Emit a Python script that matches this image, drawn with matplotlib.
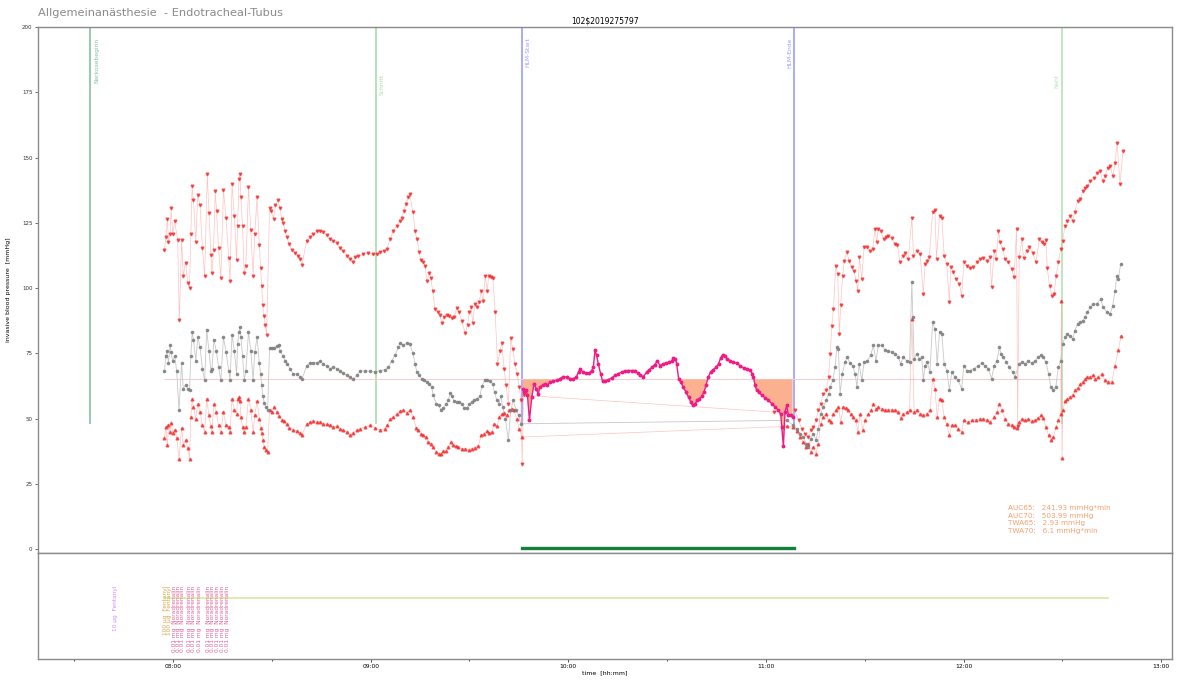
import numpy as np
import pandas as pd
import matplotlib
matplotlib.use("Agg")
import matplotlib.pyplot as plt
import matplotlib.dates as mdates

# ------------------------------------------------------------
# Data (time in minutes relative to 08:00, pressure in mmHg)
# ------------------------------------------------------------
sys_t = [-2.6, -2.2, -1.7, -1.4, -0.9, -0.6, -0.1, 0.5, 1.4, 1.9, 2.6, 3.1, 3.8, 4.5, 5.0,
         5.4, 5.8, 6.2, 6.9, 7.5, 8.2, 8.9, 9.6, 10.4, 10.9, 11.5, 11.8, 12.3, 12.8, 13.2,
         13.8, 14.5, 15.3, 16.1, 16.9, 17.3, 17.9, 18.6, 19.3, 19.6, 20.0, 20.3, 20.6, 21.1,
         21.6, 22.1, 22.9, 23.6, 24.3, 24.8, 25.5, 26.2, 26.6, 26.9, 27.2, 27.6, 28.0, 28.4,
         29.3, 29.8, 30.5, 31.1, 31.8, 32.5, 33.0, 33.5, 34.0, 34.5, 35.3, 36.0, 37.0, 37.9,
         38.6, 39.1, 40.6, 41.6, 42.6, 43.6, 44.6, 45.6, 46.7, 47.7, 48.7, 49.7, 50.7, 51.7,
         52.7, 53.7, 54.5, 55.3, 56.3, 57.8, 59.3, 60.8, 61.8, 62.8, 63.9, 64.9, 65.9, 66.9,
         67.9, 68.9, 69.4, 70.1, 70.7, 71.4, 71.9, 72.8, 73.5, 74.0, 74.7, 75.2, 76.0, 76.5,
         77.0, 77.8, 78.3, 78.8, 79.5, 80.3, 80.9, 81.6, 82.3, 83.1, 83.9, 84.6, 85.3, 86.1,
         86.9, 87.6, 88.7, 89.4, 90.0, 90.5, 91.0, 91.6, 92.2, 93.0, 93.5, 94.2, 94.8, 95.4,
         95.8, 96.4, 97.1, 97.8, 98.5, 99.3, 99.8, 100.5, 101.1, 101.8, 102.5, 103.1, 103.8,
         104.5, 105.1, 105.6, 106.0, 106.4,
         182.3, 188.8, 189.9, 190.9, 191.9, 192.9, 193.6, 194.4, 195.2, 195.9, 196.6, 197.4,
         198.3, 199.0, 199.5, 200.0, 200.5, 201.2, 201.8, 202.3, 202.7, 203.3, 203.8, 204.5,
         205.3, 206.0, 206.7, 207.4, 207.9, 208.4, 209.1, 209.8, 210.8, 211.6, 212.4, 213.1,
         213.6, 214.1, 214.8, 215.7, 216.5, 217.2, 218.2, 219.2, 219.9, 220.7, 221.5, 222.2,
         223.2, 224.3, 224.8, 225.8, 226.8, 227.8, 228.3, 228.8, 229.6, 230.6, 231.3, 231.8,
         232.7, 233.4, 234.1, 234.9, 235.7, 236.1, 236.9, 237.7, 238.7, 239.4, 240.1, 241.0,
         242.0, 243.0, 244.0, 245.0, 246.0, 247.2, 248.0, 248.5, 249.3, 249.9, 250.6, 251.1,
         251.9, 252.6, 253.6, 254.6, 255.3, 256.1, 256.4, 256.9, 257.7, 258.2, 259.2, 260.0,
         261.0, 262.0, 263.0, 263.7, 264.4, 265.0, 265.4, 266.1, 266.8, 267.5, 268.1, 268.8,
         269.5, 270.1, 270.8, 271.5, 272.3, 273.1, 273.8, 274.6, 275.4, 276.2, 276.9, 277.6,
         278.4, 279.5, 280.5, 281.4, 282.2, 283.0, 283.8, 284.5, 285.3, 286.0, 286.6, 287.5,
         288.4]
sys_v = [114.6, 119.6, 126.6, 117.8, 120.6, 130.6, 120.6, 125.5, 118.5, 87.8, 118.5, 104.7,
         109.6, 101.9, 99.9, 120.6, 138.9, 133.6, 117.8, 135.7, 131.7, 115.5, 104.7, 143.6,
         128.7, 112.6, 105.7, 114.6, 137.2, 129.6, 115.5, 103.7, 137.6, 127.0, 111.5, 102.8,
         139.7, 127.6, 110.8, 123.6, 141.7, 143.6, 134.9, 123.6, 105.7, 108.5, 138.7, 122.3,
         104.7, 120.6, 134.7, 116.4, 107.6, 100.6, 93.6, 89.2, 85.9, 82.0,
         130.6, 129.6, 126.6, 131.7, 133.6, 130.6, 126.4, 125.1, 121.9, 119.4, 116.8, 114.6,
         113.6, 112.4, 111.1, 108.9, 118.1, 119.6, 120.7, 121.7, 121.9, 121.6, 120.4, 118.8,
         118.1, 117.1, 115.3, 114.3, 112.4, 111.1, 109.8, 111.7, 112.4, 113.0, 113.4, 113.0,
         113.0, 113.7, 114.3, 114.9, 118.8, 121.9, 123.9, 125.8, 127.0, 129.5, 132.1, 134.7,
         136.0, 129.0, 121.9, 118.8, 113.7, 110.7, 109.8, 108.6, 102.8, 105.6, 103.8, 98.8,
         92.0, 90.7, 89.8, 86.5, 88.8, 89.8, 89.4, 88.6, 88.8, 92.4, 90.7, 87.3, 82.7, 86.0,
         90.7, 92.6, 86.5, 93.9, 92.6, 94.5, 99.0, 95.2, 104.6, 99.0, 104.6, 104.4, 103.8,
         90.7, 71.0, 76.0, 78.9, 69.0, 62.7, 55.7, 80.9, 76.7, 71.0, 67.2, 62.1, 57.0, 32.7,
         58.9,
         52.5, 53.1, 49.3, 46.1, 44.2, 42.9, 45.5, 46.8, 49.3, 53.1, 55.7, 59.5, 60.8, 65.9,
         74.8, 85.6, 92.0, 108.6, 105.3, 82.2, 93.6, 104.7, 110.5, 113.7, 110.5, 107.9, 106.4,
         102.8, 99.0, 111.7, 103.5, 115.6, 115.6, 114.3, 114.9, 122.6, 117.7, 122.6, 122.0,
         118.8, 119.4, 119.8, 119.1, 116.8, 116.6, 109.8, 112.4, 113.3, 111.1, 126.8, 112.4,
         114.3, 113.0, 97.7, 109.2, 110.5, 111.7, 129.0, 129.8, 111.1, 127.7, 126.8, 112.4,
         109.2, 94.5, 108.2, 106.0, 103.5, 101.6, 97.1, 109.8, 108.6, 107.7, 108.2, 109.8,
         111.1, 111.5, 110.5, 111.7, 100.5, 114.3, 111.1, 121.9, 117.5, 114.9, 111.1, 109.8,
         107.3, 104.1, 122.6, 47.0, 111.7, 118.8, 111.5, 114.3, 115.6, 113.3, 109.8, 118.8,
         117.5, 116.8, 118.4, 107.7, 100.9, 97.1, 97.7, 104.7, 109.8, 114.9, 118.1, 123.9,
         125.8, 127.7, 125.8, 129.0, 133.4, 134.0, 137.2, 138.5, 139.1, 141.0, 142.0, 144.0,
         145.0, 141.0, 143.0, 146.0, 146.7, 143.0, 148.0, 155.5, 140.0, 152.5]

map_t = [-2.6, -2.2, -1.9, -1.4, -0.9, -0.6, -0.1, 0.5, 1.1, 1.8, 2.6, 3.1, 3.8, 4.5, 5.0,
         5.4, 5.8, 6.2, 6.9, 7.5, 8.2, 8.9, 9.6, 10.2, 10.9, 11.5, 11.8, 12.4, 13.1, 13.8,
         14.5, 15.3, 16.1, 16.9, 17.3, 17.9, 18.6, 19.3, 19.6, 20.0, 20.3, 20.6, 21.1, 21.6,
         22.1, 22.9, 23.6, 24.3, 24.8, 25.5, 26.2, 26.6, 26.9, 27.3, 27.7, 28.2, 28.7,
         29.3, 30.0, 30.7, 31.5, 32.1, 32.5, 33.3, 34.0, 34.7, 35.5, 36.5, 37.7, 38.6, 39.1,
         40.6, 41.6, 42.6, 43.6, 44.6, 45.6, 46.7, 47.7, 48.7, 49.7, 50.7, 51.7, 52.7, 53.7,
         54.5, 55.8, 56.8, 58.3, 59.8, 61.3, 62.8, 64.4, 65.4, 66.4, 67.4, 68.4, 68.9, 69.9,
         70.9, 71.9, 72.8, 73.5, 74.0, 74.8, 75.5, 76.2, 77.0, 77.8, 78.5, 79.0, 79.9, 80.6,
         81.3, 82.1, 82.9, 83.6, 84.1, 84.6, 85.3, 86.1, 86.9, 87.6, 88.4, 89.2, 90.0, 90.7,
         91.4, 92.2, 93.2, 93.7, 94.7, 95.4, 96.2, 97.0, 97.6, 98.3, 98.9, 99.5, 100.1, 100.9,
         101.8, 102.5, 103.3, 104.1, 104.9, 105.6,
         186.3, 188.3, 189.3, 190.4, 191.4, 192.2, 192.9, 193.6, 194.4, 195.2, 195.9, 196.6,
         197.4, 198.3, 199.0, 199.5, 200.3, 201.0, 201.5, 202.0, 202.5, 203.2, 204.0, 204.7,
         205.5, 206.3, 207.1, 207.6, 208.3, 209.1, 209.8, 210.8, 211.8, 212.6, 213.4, 214.1,
         215.2, 216.2, 217.2, 218.2, 219.2, 220.2, 220.9, 221.7, 222.7, 223.6, 224.3, 224.6,
         225.0, 225.8, 226.6, 227.3, 227.8, 228.3, 229.0, 229.8, 230.6, 231.3, 232.0, 232.7,
         233.4, 234.1, 234.9, 235.7, 236.4, 237.4, 238.4, 239.4, 240.1, 241.0, 242.0, 243.2,
         244.5, 245.5, 246.5, 247.5, 248.5, 249.3, 250.1, 250.9, 251.4, 252.1, 252.9, 253.9,
         254.9, 255.6, 256.9, 257.6, 258.7, 259.7, 260.7, 261.7, 262.7, 263.4, 264.2, 265.0,
         265.8, 266.5, 267.3, 268.0, 268.8, 269.5, 270.1, 270.8, 271.5, 272.3, 273.1, 273.8,
         274.6, 275.4, 276.2, 276.9, 277.6, 278.4, 279.4, 280.4, 281.6, 282.4, 283.5, 284.5,
         285.3, 286.0, 286.5, 287.0, 287.7]
map_v = [68.2, 74.1, 76.0, 71.3, 78.2, 75.4, 72.0, 74.1, 68.2, 53.1, 71.2, 61.4, 62.9, 61.4,
         61.0, 74.1, 83.1, 80.1, 72.2, 81.1, 77.3, 69.0, 64.6, 84.1, 76.0, 68.4, 69.0, 80.1,
         76.0, 69.9, 64.6, 81.1, 75.4, 68.4, 64.8, 82.0, 76.0, 67.1, 78.6, 83.1, 85.2, 81.1,
         74.1, 64.8, 68.2, 83.1, 76.0, 64.6, 75.4, 81.1, 71.2, 67.1, 62.7, 58.5, 55.9, 54.4,
         53.1,
         77.1, 77.1, 77.1, 77.6, 78.3, 76.0, 74.1, 72.2, 71.0, 69.0, 67.1, 67.1, 65.9, 65.0,
         70.3, 71.4, 71.4, 71.4, 71.9, 71.0, 70.0, 69.1, 69.7, 69.1, 68.4, 67.4, 66.5, 65.9,
         65.0, 66.5, 68.2, 68.2, 68.2, 67.8, 68.4, 68.7, 69.7, 72.2, 74.2, 77.3, 78.9, 78.0,
         78.9, 78.6, 75.0, 71.0, 67.8, 66.5, 65.2, 64.6, 64.0, 63.3, 62.1, 58.9, 55.7, 55.0,
         53.4, 54.2, 55.7, 57.0, 59.8, 58.5, 56.7, 56.3, 56.3, 55.7, 54.2, 54.0, 55.7, 56.3,
         57.0, 57.6, 58.5, 62.3, 64.9, 64.9, 64.3, 63.3, 60.1, 57.0, 55.7, 58.5, 54.4, 49.9,
         41.7, 53.1, 57.0, 53.4, 51.2, 48.0,
         49.3, 47.4, 46.1, 44.2, 42.9, 40.4, 39.1, 42.3, 44.2, 41.7, 46.1, 51.9, 54.4, 57.0,
         59.5, 62.1, 64.6, 69.7, 77.3, 76.7, 59.5, 67.2, 71.6, 73.5, 71.2, 70.3, 67.2, 62.1,
         71.0, 64.6, 71.6, 72.2, 74.2, 78.0, 72.2, 78.0, 78.0, 76.1, 75.8, 75.4, 74.8, 73.5,
         71.0, 73.5, 72.2, 71.6, 102.2, 88.8, 72.9, 74.8, 72.9, 73.5, 64.6, 70.3, 71.6, 67.8,
         86.9, 84.4, 71.0, 83.1, 82.4, 71.0, 68.4, 60.8, 67.8, 65.9, 64.6, 61.4, 70.3, 68.4,
         68.4, 69.1, 70.3, 71.2, 70.3, 69.1, 65.3, 70.3, 72.2, 77.3, 74.8, 73.5, 71.6, 69.7,
         67.8, 65.9, 71.0, 71.6, 71.0, 72.2, 71.2, 72.2, 73.5, 74.2, 73.5, 71.6, 67.2, 62.1,
         60.8, 62.1, 69.7, 72.2, 78.6, 81.2, 82.2, 81.7, 80.5, 83.7, 86.3, 86.9, 87.5, 88.8,
         90.7, 92.6, 93.9, 93.9, 95.8, 92.6, 90.7, 90.1, 93.3, 99.0, 104.7, 103.5, 109.2]

dia_t = [-2.6, -2.2, -1.7, -1.4, -0.9, -0.6, -0.1, 0.5, 1.1, 1.8, 2.6, 3.1, 3.8, 4.5, 5.0,
         5.4, 5.8, 6.2, 6.9, 7.5, 8.2, 8.9, 9.6, 10.2, 10.9, 11.5, 11.8, 12.4, 13.1, 13.8,
         14.5, 15.3, 16.1, 16.9, 17.3, 17.9, 18.6, 19.3, 19.6, 20.0, 20.3, 20.6, 21.1, 21.6,
         22.1, 22.9, 23.6, 24.3, 24.8, 25.5, 26.2, 26.6, 26.9, 27.3, 27.7, 28.2, 28.7,
         29.3, 30.0, 30.7, 31.5, 32.3, 33.0, 33.7, 34.5, 35.3, 36.3, 37.5, 38.6, 39.1,
         40.6, 41.6, 42.6, 43.6, 44.6, 45.6, 46.7, 47.7, 48.7, 49.7, 50.7, 51.7, 52.7, 53.7,
         54.5, 55.8, 56.8, 58.3, 59.8, 61.3, 62.8, 64.4, 65.1, 65.9, 66.9, 67.9, 68.9, 69.9,
         70.9, 71.9, 72.9, 73.8, 74.5, 75.2, 76.0, 76.8, 77.5, 78.2, 79.0, 79.9, 80.6, 81.3,
         82.1, 82.9, 83.6, 84.3, 85.1, 85.9, 86.6, 87.6, 88.7, 89.7, 90.7, 91.7, 92.7, 93.5,
         94.4, 95.2, 96.0, 96.8, 97.5, 98.3, 99.1, 99.8, 100.5, 101.3, 102.1, 102.8, 103.5,
         104.3, 105.1, 105.9,
         186.3, 188.3, 189.3, 190.4, 191.4, 192.2, 192.9, 193.6, 194.4, 195.2, 195.9, 196.6,
         197.4, 198.3, 199.0, 199.7, 200.5, 201.2, 202.0, 202.7, 203.5, 204.3, 205.0, 205.7,
         206.5, 207.3, 207.9, 208.6, 209.4, 210.1, 211.1, 211.9, 212.6, 213.4, 214.1, 215.2,
         216.2, 217.2, 218.2, 219.2, 220.2, 220.9, 221.7, 222.7, 223.6, 224.3, 225.0, 225.8,
         226.8, 227.8, 228.8, 229.8, 230.6, 231.3, 232.0, 232.7, 233.4, 234.1, 234.9, 235.7,
         236.4, 237.4, 238.4, 239.4, 240.1, 241.2, 242.5, 243.8, 245.0, 246.0, 247.0, 248.0,
         249.3, 250.1, 250.9, 251.6, 252.6, 253.6, 254.6, 255.3, 256.1, 256.9, 257.6, 258.7,
         259.7, 260.7, 261.7, 262.7, 263.4, 264.2, 265.0, 265.8, 266.5, 267.3, 268.1, 268.8,
         269.5, 269.7, 269.9, 270.1, 270.8, 271.5, 272.3, 273.1, 273.8, 274.6, 275.4, 276.2,
         276.9, 277.6, 278.4, 279.2, 279.9, 280.9, 281.9, 282.9, 284.0, 285.0, 286.0, 287.0,
         287.8]
dia_v = [42.7, 46.8, 39.7, 47.4, 44.8, 48.4, 44.5, 45.7, 42.7, 34.6, 46.5, 39.7, 41.7, 38.7,
         34.6, 50.6, 57.6, 54.6, 49.9, 55.6, 52.5, 47.4, 44.8, 57.6, 51.2, 47.0, 44.8, 55.6,
         52.5, 47.4, 44.8, 52.5, 47.4, 46.8, 44.8, 57.6, 53.1, 51.8, 57.6, 58.2, 56.9, 50.6,
         46.8, 44.8, 46.8, 57.6, 53.4, 44.8, 51.5, 56.7, 49.9, 46.5, 44.5, 41.7, 39.1, 38.1,
         37.2,
         53.4, 52.5, 54.4, 52.5, 50.8, 49.6, 49.1, 47.8, 46.5, 45.7, 45.4, 44.5, 43.6,
         48.0, 48.7, 49.1, 48.7, 48.7, 48.0, 47.8, 47.4, 46.8, 47.0, 46.1, 45.5, 44.9, 43.6,
         44.5, 45.5, 46.1, 46.8, 47.4, 46.4, 45.7, 46.1, 47.4, 49.9, 50.6, 51.9, 52.9, 53.4,
         52.1, 53.1, 50.6, 46.5, 45.5, 44.2, 43.6, 42.9, 41.0, 40.4, 39.1, 37.2, 36.6, 36.3,
         37.6, 37.6, 39.1, 41.0, 39.8, 39.4, 39.1, 38.5, 38.5, 38.1, 38.5, 38.9, 39.4, 43.6,
         44.2, 45.2, 44.5, 44.8, 48.0, 47.0, 50.6, 51.9, 52.1, 51.2, 53.1, 53.8, 53.1, 49.9,
         46.1, 42.9,
         47.0, 46.8, 45.2, 42.9, 41.0, 39.1, 40.4, 37.2, 39.1, 36.6, 40.4, 48.0, 50.6, 51.9,
         49.3, 48.7, 51.9, 53.1, 54.4, 48.7, 54.4, 54.2, 53.1, 51.9, 50.6, 49.3, 44.9, 51.9,
         45.5, 49.3, 51.9, 53.1, 55.4, 53.8, 54.4, 53.8, 53.4, 53.4, 53.4, 53.1, 52.5, 50.3,
         51.9, 52.5, 53.1, 88.0, 52.5, 53.1, 51.9, 51.2, 51.9, 53.1, 65.2, 61.4, 50.6, 57.6,
         57.0, 50.6, 48.0, 43.6, 47.4, 47.4, 46.1, 44.9, 49.3, 48.7, 49.3, 49.6, 49.9, 49.9,
         49.6, 48.7, 50.6, 52.5, 55.7, 53.1, 49.9, 48.0, 47.4, 46.8, 46.5, 48.7, 49.9, 49.3,
         49.9, 49.0, 49.3, 50.3, 51.2, 50.3, 46.8, 43.6, 41.9, 42.9, 46.8, 49.3, 51.9, 95.0,
         35.0, 53.1, 56.7, 57.6, 58.2, 58.9, 60.8, 61.8, 63.1, 64.0, 65.2, 66.1, 65.9, 66.5,
         65.2, 65.9, 67.2, 64.6, 64.0, 64.0, 70.3, 76.1, 81.8]

# mean pressure recorded while on bypass (non-pulsatile)
hlm_t = [106.2, 106.6, 107.2, 107.6, 108.2, 108.9, 109.6, 110.2, 110.9, 111.4, 112.2, 112.9,
         113.6, 114.5, 115.5, 116.5, 117.5, 118.5, 119.5, 120.5, 121.5, 122.4, 123.1, 123.6,
         124.4, 125.4, 126.4, 127.1, 127.6, 128.1, 128.6, 129.1, 129.8, 130.4, 131.2, 132.2,
         133.2, 134.2, 135.2, 136.2, 137.2, 138.2, 139.2, 140.3, 141.1, 141.8, 142.8, 143.8,
         144.6, 145.4, 146.3, 147.0, 147.9, 148.7, 149.7, 150.7, 151.4, 151.9, 152.5, 152.9,
         153.5, 154.1, 154.9, 155.7, 156.5, 157.2, 157.8, 158.5, 159.2, 159.8, 160.5, 161.2,
         161.8, 162.5, 163.2, 164.0, 164.9, 165.6, 166.3, 166.9, 167.6, 168.3, 169.1, 170.1,
         171.1, 172.1, 173.2, 174.2, 175.2, 175.8, 176.2, 176.7, 177.2, 178.0, 178.7, 179.7,
         180.7, 181.8, 182.8, 183.8, 184.5, 184.8, 185.3, 185.8, 186.3, 186.8, 187.5, 188.1]
hlm_v = [61.4, 60.1, 60.8, 58.9, 49.3, 58.1, 63.3, 61.4, 59.5, 62.1, 62.7, 63.3, 62.7, 64.0,
         64.2, 64.6, 65.3, 66.1, 65.9, 65.3, 65.3, 65.9, 67.8, 69.1, 67.8, 67.4, 67.4, 68.4,
         69.7, 76.1, 74.2, 71.0, 67.2, 64.3, 64.2, 64.9, 65.6, 66.5, 67.2, 67.8, 68.2, 68.4,
         68.4, 68.4, 67.4, 66.5, 66.1, 67.8, 68.7, 69.7, 70.7, 72.0, 70.3, 71.0, 71.2, 71.6,
         72.0, 73.3, 72.9, 71.0, 65.2, 64.0, 62.1, 60.1, 58.2, 56.3, 55.0, 55.7, 57.0, 57.6,
         58.5, 60.1, 62.7, 65.9, 67.8, 68.7, 69.7, 71.0, 73.3, 74.5, 73.8, 72.9, 72.2, 71.6,
         71.2, 70.3, 69.4, 69.1, 68.7, 67.2, 65.9, 62.7, 60.8, 60.1, 58.9, 58.0, 57.0, 55.7,
         54.4, 53.1, 51.6, 46.8, 39.4, 52.5, 55.0, 51.2, 51.2, 50.6]

threshold = 65

# events (minutes relative to 08:00)
event_names = ["Narkosebeginn", "Schnitt", "HLM-Start", "HLM-Ende", "Naht"]
event_t = [-25.2, 61.6, 105.9, 188.5, 269.8]
event_colors = ["#86bfa6", "#a9dba9", "#9c9cff", "#9c9cff", "#b5e3b5"]

# drug boluses shown in the lower panel
drug_t = [-17.6, -2.4, -1.1, 0.3, 1.7, 3.0, 4.9, 6.2, 7.9, 10.8, 12.1, 13.5, 14.9, 16.4]
drug_lbl = ["10 µg  Fentanyl", "100 µg  Fentanyl", "100 µg  Fentanyl",
            "0.01 mg  Noradrenalin", "0.01 mg  Noradrenalin", "0.01 mg  Noradrenalin",
            "0.01 mg  Noradrenalin", "0.01 mg  Noradrenalin", "0.01 mg  Noradrenalin",
            "0.01 mg  Noradrenalin", "0.01 mg  Noradrenalin", "0.01 mg  Noradrenalin",
            "0.01 mg  Noradrenalin", "0.01 mg  Noradrenalin"]
drug_col = ["#cf8cff", "#d8a84a", "#d8a84a"] + ["#e0649c"] * 11
infusion_t = [-2.4, 283.9]

auc_text = ("AUC65:   241.93 mmHg*min\nAUC70:   503.99 mmHg\n"
            "TWA65:   2.93 mmHg\nTWA70:   6.1 mmHg*min")

base = pd.Timestamp("2019-05-16 08:00")


def at(minutes):
    return (base + pd.to_timedelta(np.asarray(minutes, dtype=float), unit="m")).values


# ------------------------------------------------------------
# Figure
# ------------------------------------------------------------
fig = plt.figure(figsize=(11.77, 6.8), dpi=100)
ax = fig.add_axes([0.0323, 0.1868, 0.9635, 0.7735])
ax2 = fig.add_axes([0.0323, 0.0309, 0.9635, 0.1559], sharex=ax)

for a in (ax, ax2):
    for s in a.spines.values():
        s.set_color("#8a8a8a")
        s.set_linewidth(1.0)

# event markers
for name, t, c in zip(event_names, event_t, event_colors):
    ax.vlines(at([t])[0], 48, 200, color=c, lw=1.2, zorder=1)
ax.text(at([event_t[0] + 1.2])[0], 196, event_names[0], rotation=90, va="top", ha="left",
        fontsize=4.3, color=event_colors[0])
ax.text(at([event_t[1] + 1.2])[0], 182, event_names[1], rotation=90, va="top", ha="left",
        fontsize=4.3, color=event_colors[1])
ax.text(at([event_t[2] + 1.0])[0], 196, event_names[2], rotation=90, va="top", ha="left",
        fontsize=4.3, color=event_colors[2])
ax.text(at([event_t[3] - 0.6])[0], 196, event_names[3], rotation=90, va="top", ha="right",
        fontsize=4.3, color=event_colors[3])
ax.text(at([event_t[4] - 0.6])[0], 182, event_names[4], rotation=90, va="top", ha="right",
        fontsize=4.3, color=event_colors[4])

# MAP threshold
ax.hlines(threshold, at([sys_t[0]])[0], at([event_t[4]])[0], color="#f2d0d0", lw=0.8,
          zorder=1)

# blood pressure curves
ax.plot(at(sys_t), sys_v, color="#ff9a9a", lw=0.5, alpha=0.6, zorder=2)
ax.plot(at(sys_t), sys_v, ls="none", marker="v", ms=2.0, color="#f02828", alpha=0.7,
        zorder=3)
ax.plot(at(dia_t), dia_v, color="#ff9a9a", lw=0.5, alpha=0.6, zorder=2)
ax.plot(at(dia_t), dia_v, ls="none", marker="^", ms=2.0, color="#f02828", alpha=0.7,
        zorder=3)
ax.plot(at(map_t), map_v, color="#c8c8c8", lw=0.6, zorder=2)
ax.plot(at(map_t), map_v, ls="none", marker="o", ms=1.6, color="#808080", alpha=0.85,
        zorder=3)

# bypass period: area below threshold
hv = np.array(hlm_v)
ax.fill_between(at(hlm_t), hv, threshold, where=hv < threshold, interpolate=True,
                color="#fbb090", lw=0, zorder=2)
ax.plot(at(hlm_t), hlm_v, color="#ee1c84", lw=1.0, marker="o", ms=1.8, zorder=4)

# bypass flow indicator
ax.plot(at([event_t[2], event_t[3]]), [0.5, 0.5], color="#13803c", lw=2.4, zorder=4)

ax.text(at([253.5])[0], 16.8, auc_text, fontsize=5.2, color="#f5a070", va="top",
        ha="left", linespacing=1.3)

ax.set_ylim(-1.5, 200)
ax.set_yticks(range(0, 201, 25))
ax.tick_params(axis="y", labelsize=4, length=2, width=0.5, pad=2, colors="#333333")
ax.tick_params(axis="x", bottom=False, labelbottom=False)
ax.set_ylabel("invasive blood pressure  [mmHg]", fontsize=4.5, labelpad=8)
ax.set_title(r"102\$2019275797", fontsize=5.5, pad=2.5)
fig.text(0.0323, 0.981, "Allgemeinanästhesie  - Endotracheal-Tubus", fontsize=8.2,
         color="#8a8a8a", va="center", ha="left")

# lower panel: medication
ax2.plot(at(infusion_t), [0.575, 0.575], color="#dce6a4", lw=1.2, zorder=1)
for t, lbl, c in zip(drug_t, drug_lbl, drug_col):
    ax2.text(at([t])[0], 0.69, lbl, rotation=90, va="top", ha="center", fontsize=4.2,
             color=c, zorder=2)
ax2.set_ylim(0, 1)
ax2.set_yticks([])

ax2.set_xlim(at([-41.0])[0], at([303.3])[0])
ax2.xaxis.set_major_locator(mdates.HourLocator())
ax2.xaxis.set_minor_locator(mdates.MinuteLocator(byminute=[30]))
ax2.xaxis.set_major_formatter(mdates.DateFormatter("%H:%M"))
ax2.tick_params(axis="x", which="major", labelsize=4.3, length=2, width=0.5, pad=1.5)
ax2.tick_params(axis="x", which="minor", length=1.5, width=0.5)
ax2.set_xlabel("time  [hh:mm]", fontsize=4.5, labelpad=1)

fig.savefig("out.png", dpi=100)
